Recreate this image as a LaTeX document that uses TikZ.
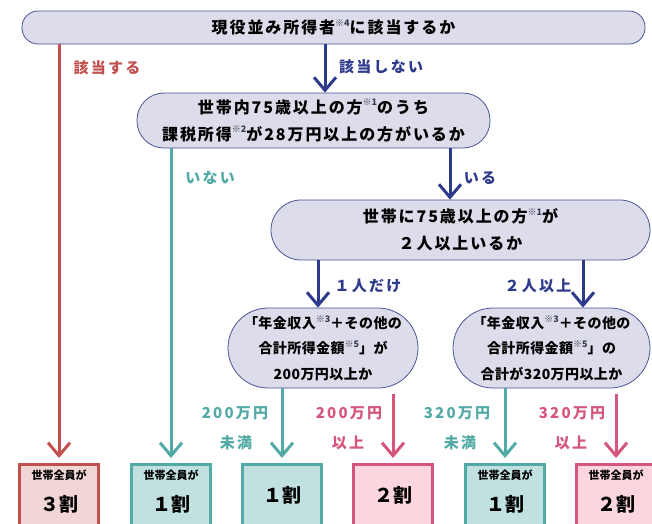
\documentclass[tikz,border=0pt]{standalone}
\usepackage{fontspec}
\setmainfont{Noto Sans CJK JP}
\usetikzlibrary{arrows.meta}
\definecolor{navy}{HTML}{2E3A8C}
\definecolor{qfill}{HTML}{DCDCEA}
\definecolor{qline}{HTML}{4A5694}
\definecolor{redc}{HTML}{C0504D}
\definecolor{redfill}{HTML}{F2D6D6}
\definecolor{pinkc}{HTML}{D6557A}
\definecolor{pinkfill}{HTML}{FCD6DC}
\definecolor{tealc}{HTML}{52AAA6}
\definecolor{tealfill}{HTML}{C0E1E0}
\definecolor{supc}{HTML}{3A3A55}
\newcommand{\sm}[1]{\raisebox{0.45em}{\fontsize{9}{9}\selectfont\addfontfeatures{LetterSpace=0}\textcolor{supc}{#1}}}
\tikzset{
  question/.style={draw=qline, fill=qfill, line width=0.8pt, inner sep=0pt, align=center,
    font=\fontsize{16}{27}\selectfont\bfseries\addfontfeatures{LetterSpace=12}},
  result/.style={line width=2.6pt, minimum width=79pt, minimum height=70pt, inner sep=0pt, anchor=north},
  redbox/.style={result, draw=redc, fill=redfill},
  pinkbox/.style={result, draw=pinkc, fill=pinkfill},
  tealbox/.style={result, draw=tealc, fill=tealfill},
  arr/.style={line width=3pt, -{Straight Barb[length=13pt,width=22pt,line width=3pt]}},
  navyarr/.style={arr, draw=navy},
  lbl/.style={font=\fontsize{15}{15}\selectfont\bfseries\addfontfeatures{LetterSpace=15}, inner sep=0pt},
  small/.style={font=\fontsize{11}{11}\selectfont\bfseries, inner sep=0pt},
  big/.style={font=\fontsize{19}{19}\selectfont\bfseries, inner sep=0pt},
}
\begin{document}
\begin{tikzpicture}[x=1pt,y=-1pt]
\useasboundingbox (0,0) rectangle (652,523);
\clip (0,0) rectangle (652,523);
\fill[white] (0,0) rectangle (652,523);
% questions
\node[question, minimum width=623pt, minimum height=33pt, rounded corners=16pt] (top) at (333.5,27.5) {現役並み所得者\sm{※4}に該当するか};
\node[question, minimum width=353pt, minimum height=55pt, rounded corners=27pt] (q2) at (313.5,120.5) {世帯内75歳以上の方\sm{※1}のうち\\課税所得\sm{※2}が28万円以上の方がいるか};
\node[question, minimum width=379pt, minimum height=60pt, rounded corners=30pt] (q3) at (460.5,230) {世帯に75歳以上の方\sm{※1}が\\２人以上いるか};
\node[question, minimum width=190pt, minimum height=80pt, rounded corners=40pt, font=\fontsize{14}{25.5}\selectfont\bfseries\addfontfeatures{LetterSpace=3}] (q4a) at (323,348) {「年金収入\sm{※3}＋その他の\\合計所得金額\sm{※5}」が\\200万円以上か};
\node[question, minimum width=197pt, minimum height=80pt, rounded corners=40pt, font=\fontsize{14}{25.5}\selectfont\bfseries\addfontfeatures{LetterSpace=3}] (q4b) at (551.5,348) {「年金収入\sm{※3}＋その他の\\合計所得金額\sm{※5}」の\\合計が320万円以上か};
% result boxes
\node[redbox] (b1) at (59,463) {};
\node[tealbox] (b2) at (171,463) {};
\node[tealbox] (b3) at (282,463) {};
\node[pinkbox] (b4) at (393,463) {};
\node[tealbox] (b5) at (505,463) {};
\node[pinkbox] (b6) at (616,463) {};
\node[small] (t1) at ([yshift=-12pt]b1.north) {世帯全員が};
\node[big] (r1) at ([yshift=-41pt]b1.north) {３割};
\node[small] (t2) at ([yshift=-12pt]b2.north) {世帯全員が};
\node[big] (r2) at ([yshift=-41pt]b2.north) {１割};
\node[big] (r3) at ([yshift=-32pt]b3.north) {１割};
\node[big] (r4) at ([yshift=-32pt]b4.north) {２割};
\node[small] (t5) at ([yshift=-12pt]b5.north) {世帯全員が};
\node[big] (r5) at ([yshift=-41pt]b5.north) {１割};
\node[small] (t6) at ([yshift=-12pt]b6.north) {世帯全員が};
\node[big] (r6) at ([yshift=-41pt]b6.north) {２割};
% connectors
\draw[arr, redc, shorten >=5pt] (b1.north |- top.south) -- (b1.north);
\draw[navyarr] ([xshift=-8.5pt]top.south) -- ([xshift=-8.5pt]top.south |- q2.north);
\draw[arr, tealc, shorten >=5pt] (b2.north |- q2.south) -- (b2.north);
\draw[navyarr] ([xshift=136.5pt]q2.south) -- ([xshift=136.5pt]q2.south |- q3.north);
\draw[navyarr] ([xshift=-142.5pt]q3.south) -- ([xshift=-142.5pt]q3.south |- q4a.north);
\draw[navyarr] ([xshift=122.5pt]q3.south) -- ([xshift=122.5pt]q3.south |- q4b.north);
\draw[arr, tealc, shorten >=5pt] (b3.north |- q4a.south) -- (b3.north);
\draw[arr, pinkc, shorten >=5pt] ([yshift=-6pt]b4.north |- q4a.south) -- (b4.north);
\draw[arr, tealc, shorten >=5pt] (b5.north |- q4b.south) -- (b5.north);
\draw[arr, pinkc, shorten >=5pt] ([yshift=-6pt]b6.north |- q4b.south) -- (b6.north);
% labels
\node[lbl, text=redc] (l1) at (107,68) {該当する};
\node[lbl, text=navy] (l2) at (381,67) {該当しない};
\node[lbl, text=tealc] (l3) at (210,178) {いない};
\node[lbl, text=navy] (l4) at (480,178) {いる};
\node[lbl, text=navy] (l5) at (368,286) {１人だけ};
\node[lbl, text=navy] (l6) at (538,286) {２人以上};
\node[lbl, text=tealc] (l7) at (235,413) {200万円};
\node[lbl, text=tealc] (l8) at (236,443) {未満};
\node[lbl, text=pinkc] (l9) at (349,413) {200万円};
\node[lbl, text=pinkc] (l10) at (348,443) {以上};
\node[lbl, text=tealc] (l11) at (457,413) {320万円};
\node[lbl, text=tealc] (l12) at (460,443) {未満};
\node[lbl, text=pinkc] (l13) at (572,413) {320万円};
\node[lbl, text=pinkc] (l14) at (571,443) {以上};
\end{tikzpicture}
\end{document}
